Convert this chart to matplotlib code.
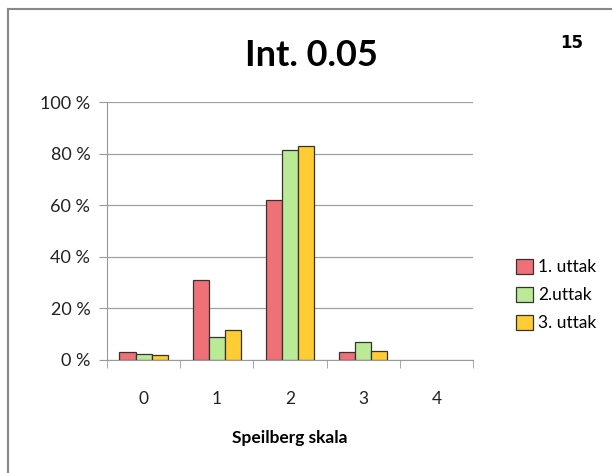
import matplotlib.pyplot as plt
from matplotlib.lines import Line2D
from matplotlib.patches import Patch
import numpy as np

categories = ["0", "1", "2", "3", "4"]
series_names = ["1. uttak", "2.uttak", "3. uttak"]
uttak1 = [3.2, 31.0, 62.0, 3.2, 0.0]
uttak2 = [2.3, 9.0, 81.5, 6.8, 0.0]
uttak3 = [1.9, 11.5, 83.0, 3.5, 0.0]
colors = ["#F07077", "#BBEA96", "#FFCC33"]

plt.rcParams['font.family'] = ['Lato', 'DejaVu Sans']

fig = plt.figure(figsize=(6.12, 4.73), dpi=100)
ax = fig.add_axes([107/612, 1 - 360/473, (473 - 107)/612, (360 - 102)/473])

x = np.arange(len(categories))
w = 0.22
for i, (vals, c) in enumerate(zip([uttak1, uttak2, uttak3], colors)):
    edges = ["#333333" if v > 0 else "none" for v in vals]
    ax.bar(x + (i - 1) * w, vals, width=w, color=c, edgecolor=edges, linewidth=0.9, zorder=3)

ax.set_xlim(-0.5, len(categories) - 0.5)
ax.set_ylim(0, 100)
ax.set_yticks(np.arange(0, 101, 20))
ax.set_yticklabels([f"{v} %" for v in range(0, 101, 20)], fontsize=13, color="#222222")
ax.set_xticks(x)
ax.set_xticklabels(categories, fontsize=12.5, color="#222222")
ax.set_xticks(np.arange(-0.5, len(categories), 1), minor=True)
ax.tick_params(axis='x', which='major', length=0, pad=22)
ax.tick_params(axis='x', which='minor', length=6, color="#999999", direction='out')
ax.tick_params(axis='y', length=6, color="#999999", direction='out', pad=6)
ax.yaxis.grid(True, color="#A0A0A0", linewidth=0.9, zorder=0)
for s in ["top", "right"]:
    ax.spines[s].set_visible(False)
ax.spines["left"].set_color("#999999")
ax.spines["bottom"].set_color("#999999")

ax.set_xlabel("Speilberg skala", fontsize=12.5, fontweight='bold', labelpad=17)

fig.text(311/612, 1 - 55/473, "Int. 0.05", fontsize=26, fontweight='bold',
         ha='center', va='center')
fig.text(572/612, 1 - 43/473, "15", fontsize=12, fontweight='bold', ha='center', va='center',
         family=['DejaVu Sans'])

handles = [Patch(facecolor=c, edgecolor="#333333", linewidth=0.9) for c in colors]
fig.legend(handles, series_names, loc='center left', bbox_to_anchor=(500/612, 1 - 295/473),
           frameon=False, fontsize=12.5, handlelength=1.0, handleheight=1.0,
           handletextpad=0.3, labelspacing=0.65)

# outer frame
fig.add_artist(Line2D([8/612, 8/612], [0, 1 - 9/473], color="#888888", linewidth=1.5))
fig.add_artist(Line2D([8/612, 1], [1 - 9/473, 1 - 9/473], color="#888888", linewidth=1.5))

fig.savefig("out.png", dpi=100)
